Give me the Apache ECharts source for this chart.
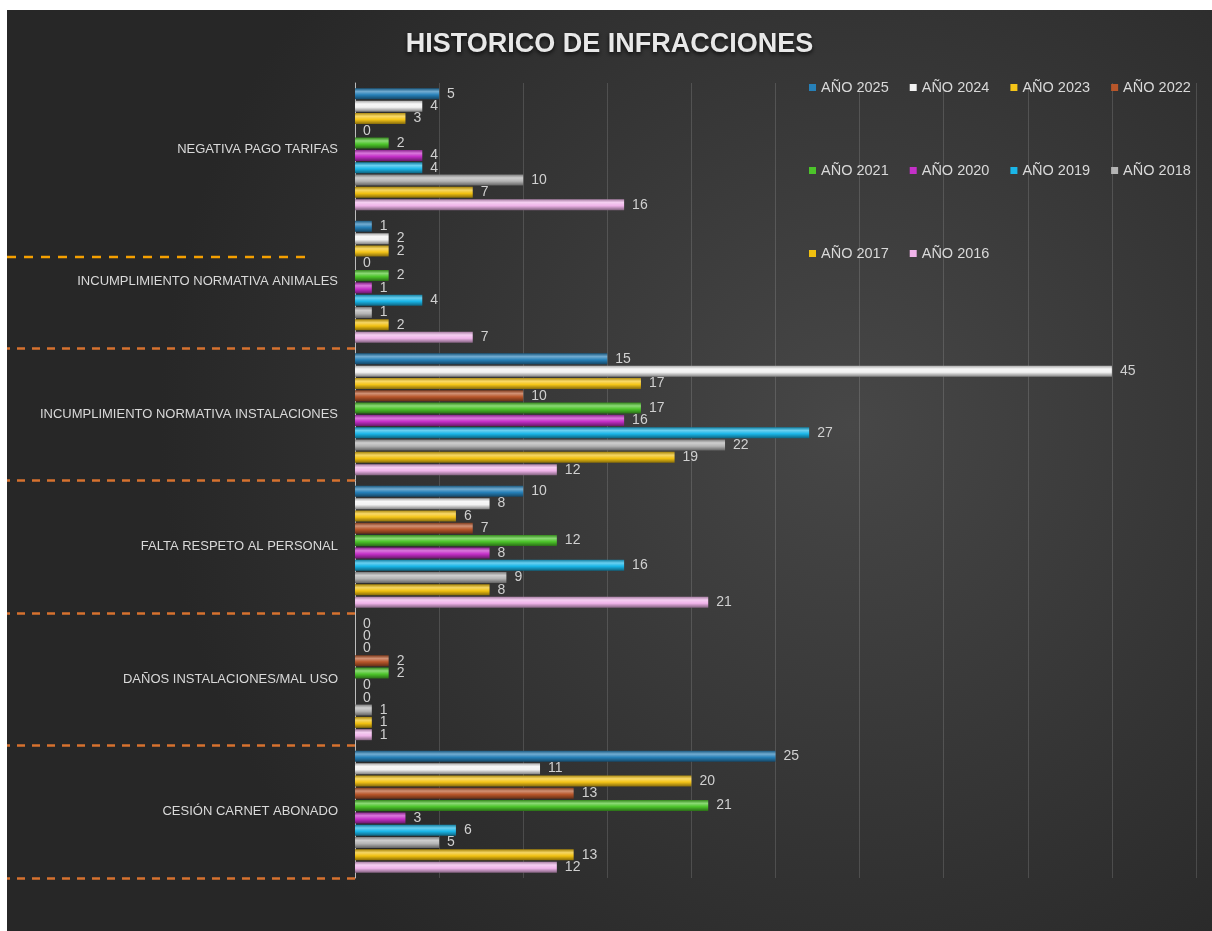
<!DOCTYPE html>
<html>
<head>
<meta charset="utf-8">
<script src="https://cdn.jsdelivr.net/npm/echarts@6/dist/echarts.min.js"></script>
<style>
  html, body { margin: 0; padding: 0; background: #ffffff; }
  #chart { position: absolute; left: 7px; top: 10px; width: 1205px; height: 921px; }
</style>
</head>
<body>
<div id="chart"></div>
<script>
const categories = [
  'NEGATIVA PAGO TARIFAS',
  'INCUMPLIMIENTO NORMATIVA ANIMALES',
  'INCUMPLIMIENTO NORMATIVA INSTALACIONES',
  'FALTA RESPETO AL PERSONAL',
  'DAÑOS INSTALACIONES/MAL USO',
  'CESIÓN CARNET ABONADO'
]
const years = ['AÑO 2025', 'AÑO 2024', 'AÑO 2023', 'AÑO 2022', 'AÑO 2021',
  'AÑO 2020', 'AÑO 2019', 'AÑO 2018', 'AÑO 2017', 'AÑO 2016']

const y2025 = [5, 1, 15, 10, 0, 25]
const y2024 = [4, 2, 45, 8, 0, 11]
const y2023 = [3, 2, 17, 6, 0, 20]
const y2022 = [0, 0, 10, 7, 2, 13]
const y2021 = [2, 2, 17, 12, 2, 21]
const y2020 = [4, 1, 16, 8, 0, 3]
const y2019 = [4, 4, 27, 16, 0, 6]
const y2018 = [10, 1, 22, 9, 1, 5]
const y2017 = [7, 2, 19, 8, 1, 13]
const y2016 = [16, 7, 12, 21, 1, 12]
const values = [y2025, y2024, y2023, y2022, y2021, y2020, y2019, y2018, y2017, y2016]

const colors = ['#2680b8', '#f2f2f2', '#f5c518', '#b8562a', '#4cc42a',
  '#c430c8', '#1ab6e8', '#b4b4b4', '#f0c010', '#f0b4ea']

// shade a hex colour: f < 0 darker, f > 0 lighter
const shade = (hex, f) => {
  const n = parseInt(hex.slice(1), 16)
  let c = [(n >> 16) & 255, (n >> 8) & 255, n & 255]
  c = c.map(v => Math.round(f < 0 ? v * (1 + f) : v + (255 - v) * f))
  return 'rgb(' + c.join(',') + ')'
}

const barColor = (hex) => new echarts.graphic.LinearGradient(0, 0, 0, 1, [
  { offset: 0, color: shade(hex, -0.3) },
  { offset: 0.3, color: shade(hex, 0.35) },
  { offset: 0.6, color: hex },
  { offset: 1, color: shade(hex, -0.45) }
])

const chart = echarts.init(document.getElementById('chart'))

const series = years.map((name, i) => ({
  name,
  type: 'bar',
  data: values[i],
  barWidth: 11,
  barGap: '12%',
  itemStyle: { color: barColor(colors[i]) },
  label: {
    show: true,
    position: 'right',
    distance: 8,
    color: '#d0d0d0',
    fontSize: 14,
    fontFamily: 'Liberation Sans, Arial, sans-serif'
  }
}))

const legendRow = (items, top) => ({
  data: items.map(name => ({ name, itemStyle: { color: colors[years.indexOf(name)] } })),
  left: 797,
  top,
  icon: 'rect',
  itemWidth: 7,
  itemHeight: 7,
  itemGap: 21,
  textStyle: {
    color: '#d9d9d9',
    fontSize: 14.5,
    fontFamily: 'Liberation Sans, Arial, sans-serif'
  }
})

chart.setOption({
  backgroundColor: new echarts.graphic.RadialGradient(0.7, 0.45, 0.75, [
    { offset: 0, color: '#474747' },
    { offset: 1, color: '#272727' }
  ]),
  title: {
    text: 'HISTORICO DE INFRACCIONES',
    left: 'center',
    top: 16,
    textStyle: {
      color: '#e8e8e8',
      fontSize: 27,
      fontWeight: 'bold',
      fontFamily: 'Liberation Sans, Arial, sans-serif',
      textShadowColor: 'rgba(0,0,0,0.8)',
      textShadowBlur: 4,
      textShadowOffsetY: 2
    }
  },
  legend: [
    legendRow(years.slice(0, 4), 65),
    legendRow(years.slice(4, 8), 148),
    legendRow(years.slice(8, 10), 231)
  ],
  grid: { left: 348, right: 16, top: 73, bottom: 53, containLabel: false },
  xAxis: {
    type: 'value',
    min: 0,
    max: 50,
    interval: 5,
    axisLabel: { show: false },
    axisLine: { show: false },
    axisTick: { show: false },
    splitLine: { lineStyle: { color: 'rgba(255,255,255,0.14)', width: 1 } }
  },
  yAxis: {
    type: 'category',
    data: categories,
    inverse: true,
    axisLine: { lineStyle: { color: '#bdbdbd', width: 1 } },
    axisTick: {
      show: true,
      length: 348,
      interval: (index) => index >= 2,
      lineStyle: { color: '#d6722f', width: 2.5, type: [8, 7] }
    },
    axisLabel: {
      margin: 17,
      color: '#d9d9d9',
      fontSize: 13,
      fontFamily: 'Liberation Sans, Arial, sans-serif'
    }
  },
  graphic: [{
    type: 'line',
    shape: { x1: 0, y1: 247, x2: 300, y2: 247 },
    style: { stroke: '#f5a000', lineWidth: 2.5, lineDash: [9, 8] }
  }],
  series
})
</script>
</body>
</html>
